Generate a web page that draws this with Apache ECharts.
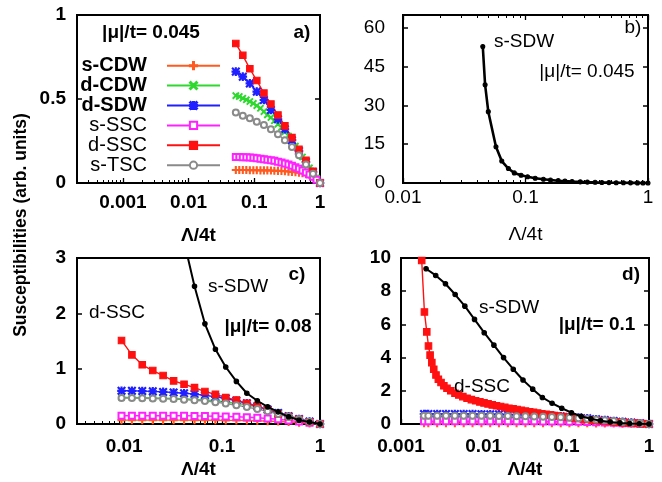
<!DOCTYPE html>
<html><head><meta charset="utf-8">
<script src="https://cdn.jsdelivr.net/npm/echarts@6/dist/echarts.min.js"></script>
<style>html,body{margin:0;padding:0;background:#fff}#c{width:662px;height:482px}</style>
</head><body><div id="c"></div>
<script>
// ---------------- data ----------------
// panel a (|mu|/t = 0.045)
const aXs = [0.0523, 0.0668, 0.0855, 0.109, 0.140, 0.179, 0.229, 0.292, 0.374, 0.478, 0.611, 0.782, 1];
const aXd = [0.0523, 0.0591, 0.0668, 0.0756, 0.0855, 0.0967, 0.109, 0.124, 0.140, 0.158, 0.179, 0.202, 0.229, 0.259, 0.292, 0.331, 0.374, 0.423, 0.478, 0.541, 0.611, 0.692, 0.782, 0.884, 1];
const aOrange = [0.077, 0.077, 0.077, 0.077, 0.076, 0.076, 0.076, 0.075, 0.075, 0.075, 0.074, 0.073, 0.072, 0.071, 0.07, 0.068, 0.066, 0.064, 0.061, 0.058, 0.054, 0.048, 0.04, 0.025, 0];
const aGreen = [0.52, 0.515, 0.505, 0.495, 0.485, 0.474, 0.46, 0.445, 0.425, 0.405, 0.39, 0.37, 0.35, 0.33, 0.305, 0.28, 0.25, 0.22, 0.185, 0.155, 0.12, 0.09, 0.06, 0.03, 0];
const aBlue = [0.663, 0.633, 0.593, 0.544, 0.494, 0.435, 0.379, 0.32, 0.255, 0.19, 0.125, 0.065, 0];
const aPink = [0.155, 0.155, 0.154, 0.153, 0.152, 0.15, 0.148, 0.145, 0.142, 0.139, 0.136, 0.132, 0.127, 0.122, 0.116, 0.11, 0.102, 0.094, 0.085, 0.074, 0.062, 0.05, 0.037, 0.02, 0];
const aRed = [0.83, 0.76, 0.68, 0.61, 0.535, 0.47, 0.405, 0.34, 0.27, 0.2, 0.135, 0.07, 0];
const aGrey = [0.42, 0.40, 0.385, 0.365, 0.345, 0.32, 0.29, 0.255, 0.215, 0.165, 0.11, 0.055, 0];
// panel b
const bX = [0.0448, 0.0468, 0.0497, 0.0574, 0.064, 0.0725, 0.081, 0.092, 0.104, 0.12, 0.14, 0.16, 0.185, 0.21, 0.24, 0.28, 0.32, 0.37, 0.42, 0.48, 0.55, 0.63, 0.72, 0.82, 0.91, 1];
const bBlack = [52.8, 38, 27.6, 14, 8.5, 5.6, 3.9, 3.0, 2.4, 1.85, 1.45, 1.15, 0.9, 0.72, 0.57, 0.44, 0.35, 0.27, 0.21, 0.16, 0.12, 0.085, 0.055, 0.03, 0.015, 0];
// panel c (|mu|/t = 0.08)
const cX = [0.0094, 0.0120, 0.0153, 0.0196, 0.0250, 0.0320, 0.0409, 0.0523, 0.0668, 0.0855, 0.109, 0.140, 0.179, 0.229, 0.292, 0.374, 0.478, 0.611, 0.782, 1];
const cOrange = [0.07, 0.07, 0.07, 0.07, 0.07, 0.07, 0.07, 0.069, 0.068, 0.067, 0.066, 0.065, 0.062, 0.058, 0.052, 0.045, 0.035, 0.025, 0.012, 0];
const cGreen = [0.48, 0.48, 0.475, 0.47, 0.465, 0.46, 0.455, 0.445, 0.435, 0.42, 0.40, 0.375, 0.345, 0.305, 0.26, 0.205, 0.15, 0.095, 0.045, 0];
const cBlue = [0.60, 0.60, 0.595, 0.59, 0.58, 0.57, 0.555, 0.54, 0.52, 0.49, 0.46, 0.42, 0.375, 0.32, 0.26, 0.2, 0.14, 0.09, 0.045, 0];
const cPink = [0.15, 0.15, 0.15, 0.15, 0.15, 0.15, 0.148, 0.146, 0.144, 0.14, 0.135, 0.13, 0.122, 0.113, 0.1, 0.085, 0.065, 0.045, 0.022, 0];
const cRed = [1.51, 1.25, 1.07, 0.966, 0.876, 0.779, 0.719, 0.658, 0.586, 0.537, 0.477, 0.435, 0.374, 0.326, 0.254, 0.181, 0.133, 0.085, 0.042, 0];
const cGrey = [0.47, 0.47, 0.465, 0.46, 0.455, 0.45, 0.44, 0.43, 0.415, 0.395, 0.37, 0.34, 0.305, 0.27, 0.23, 0.18, 0.13, 0.085, 0.04, 0];
const cBlackX = [0.0409, 0.0523, 0.0668, 0.0855, 0.109, 0.140, 0.179, 0.229, 0.292, 0.374, 0.478, 0.611, 0.782, 1];
const cBlack = [3.3, 2.49, 1.81, 1.35, 1.03, 0.77, 0.556, 0.42, 0.31, 0.22, 0.13, 0.07, 0.036, 0];
// panel d (|mu|/t = 0.1)
const dX = [0.0019, 0.00214, 0.00274, 0.0035, 0.00448, 0.00573, 0.00733, 0.0094, 0.0120, 0.0153, 0.0196, 0.0250, 0.0320, 0.0409, 0.0523, 0.0668, 0.0855, 0.109, 0.140, 0.179, 0.229, 0.292, 0.374, 0.478, 0.611, 0.782, 1];
const dOrange = [0.05, 0.05, 0.05, 0.05, 0.05, 0.05, 0.05, 0.05, 0.05, 0.05, 0.05, 0.05, 0.05, 0.05, 0.05, 0.049, 0.048, 0.047, 0.045, 0.043, 0.04, 0.036, 0.031, 0.025, 0.018, 0.009, 0];
const dGreen = [0.46, 0.46, 0.46, 0.46, 0.46, 0.46, 0.455, 0.45, 0.45, 0.445, 0.44, 0.43, 0.42, 0.41, 0.395, 0.38, 0.36, 0.335, 0.305, 0.27, 0.235, 0.195, 0.15, 0.105, 0.065, 0.03, 0];
const dBlue = [0.6, 0.6, 0.6, 0.6, 0.6, 0.6, 0.595, 0.59, 0.585, 0.58, 0.57, 0.56, 0.55, 0.535, 0.515, 0.49, 0.46, 0.425, 0.385, 0.34, 0.29, 0.24, 0.185, 0.13, 0.085, 0.04, 0];
const dPink = [0.17, 0.17, 0.17, 0.17, 0.17, 0.17, 0.17, 0.17, 0.17, 0.17, 0.168, 0.165, 0.162, 0.16, 0.155, 0.15, 0.145, 0.14, 0.13, 0.12, 0.105, 0.09, 0.07, 0.05, 0.03, 0.015, 0];
const dGrey = [0.5, 0.5, 0.5, 0.5, 0.5, 0.5, 0.495, 0.49, 0.49, 0.485, 0.48, 0.47, 0.46, 0.45, 0.435, 0.42, 0.4, 0.375, 0.345, 0.31, 0.27, 0.225, 0.175, 0.125, 0.08, 0.04, 0];
const dRedX = [0.00178, 0.00192, 0.00205, 0.00215, 0.00225, 0.00236, 0.00249, 0.00265, 0.00283, 0.00305, 0.0033, 0.0036, 0.004, 0.0045, 0.005, 0.0056, 0.0063, 0.0071, 0.008, 0.009, 0.0101, 0.0113, 0.0127, 0.0143, 0.016, 0.018, 0.0202, 0.0227, 0.0254, 0.0285, 0.032, 0.036, 0.04, 0.045, 0.0505, 0.057, 0.064, 0.071, 0.08, 0.09, 0.101, 0.113, 0.127, 0.143, 0.16, 0.18, 0.202, 0.227, 0.254, 0.285, 0.32, 0.36, 0.40, 0.45, 0.505, 0.57, 0.64, 0.71, 0.8, 0.9, 1];
const dRed = [9.85, 6.75, 5.55, 4.7, 4.15, 3.7, 3.3, 2.95, 2.7, 2.5, 2.3, 2.15, 2.0, 1.85, 1.75, 1.65, 1.55, 1.47, 1.4, 1.33, 1.27, 1.21, 1.15, 1.1, 1.05, 1.0, 0.95, 0.91, 0.87, 0.82, 0.78, 0.74, 0.7, 0.66, 0.62, 0.58, 0.55, 0.51, 0.48, 0.45, 0.42, 0.39, 0.36, 0.33, 0.3, 0.27, 0.25, 0.22, 0.2, 0.18, 0.16, 0.14, 0.12, 0.1, 0.085, 0.07, 0.055, 0.04, 0.025, 0.012, 0];
const dBlackX = [0.00201, 0.00263, 0.00345, 0.00452, 0.00592, 0.00775, 0.01015, 0.0133, 0.0174, 0.0228, 0.0299, 0.0392, 0.0513, 0.0672, 0.088, 0.1153, 0.151, 0.1978, 0.259, 0.340, 0.4447, 0.5826, 0.763, 1];
const dBlack = [9.35, 8.95, 8.45, 7.8, 7.1, 6.3, 5.5, 4.75, 4.0, 3.3, 2.65, 2.1, 1.6, 1.25, 0.95, 0.68, 0.47, 0.31, 0.2, 0.12, 0.065, 0.03, 0.012, 0];
// tick labels by decade exponent
const xTickLabels = { '-3': '0.001', '-2': '0.01', '-1': '0.1', '0': '1' };
const legendNames = ['s-CDW', 'd-CDW', 'd-SDW', 's-SSC', 'd-SSC', 's-TSC'];

// ---------------- styling ----------------
const FONT = '"Liberation Sans", Arial, Helvetica, sans-serif';
const PLUS = 'path://M4.3,0H5.7V10H4.3ZM0,4.3H10V5.7H0Z';
const CROSS = 'path://M0,1L1,0L5,4L9,0L10,1L6,5L10,9L9,10L5,6L1,10L0,9L4,5Z';
const STAR = 'path://M4.3,0H5.7V10H4.3ZM0,4.3H10V5.7H0ZM0,1L1,0L5,4L9,0L10,1L6,5L10,9L9,10L5,6L1,10L0,9L4,5Z';
const ST = {
  's-CDW': { color: '#ff5a1f', symbol: PLUS, size: 7 },
  'd-CDW': { color: '#2fd82f', symbol: CROSS, size: 6 },
  'd-SDW': { color: '#1f1fff', symbol: STAR, size: 7.5 },
  's-SSC': { color: '#ff22ff', symbol: 'emptyRect', size: 6 },
  'd-SSC': { color: '#ff1010', symbol: 'rect', size: 6.5 },
  's-TSC': { color: '#8a8a8a', symbol: 'emptyCircle', size: 6 },
  's-SDW': { color: '#000000', symbol: 'circle', size: 4 }
};

function ser(name, xs, ys, gi, opts) {
  opts = opts || {};
  const s = ST[name];
  return {
    type: 'line', name, xAxisIndex: gi.x, yAxisIndex: gi.y,
    data: xs.map((x, i) => [x, ys[i]]),
    symbol: s.symbol, symbolSize: opts.size || s.size, symbolKeepAspect: true,
    showSymbol: true, showAllSymbol: true, clip: !!opts.clip,
    lineStyle: { color: s.color, width: opts.lw || 1.4 },
    itemStyle: { color: s.color, borderColor: s.color, borderWidth: 1.1 },
    emphasis: { disabled: true }, silent: true, animation: false, z: opts.z || 2
  };
}

function xMain(gi, min, bold, margin, nameGap, showMin) {
  return {
    type: 'log', logBase: 10, gridIndex: gi, position: 'bottom', min: min, max: 1,
    axisLine: { show: true, onZero: false, lineStyle: { color: '#000', width: 2 } },
    axisTick: { show: true, inside: true, length: 5, lineStyle: { color: '#000', width: 1.3 } },
    splitLine: { show: false }, minorTick: { show: false },
    axisLabel: {
      show: true, margin: margin, showMinLabel: showMin, showMaxLabel: true,
      color: '#000', fontFamily: FONT, fontSize: 19, fontWeight: bold ? 'bold' : 'normal',
      formatter: v => xTickLabels[String(Math.round(Math.log10(v)))] || ''
    },
    name: 'Λ/4t', nameLocation: 'middle', nameGap: nameGap,
    nameTextStyle: { color: '#000', fontFamily: FONT, fontSize: 19, fontWeight: bold ? 'bold' : 'normal' }
  };
}
function xMinor(gi, min, pos) {
  const lmin = Math.log10(min);
  const vals = [];
  for (let e = Math.floor(lmin); e < 0; e++) {
    for (let k = 2; k <= 9; k++) {
      const v = Math.log10(k) + e;
      if (v > lmin + 1e-6 && v < -1e-6) vals.push(v);
    }
  }
  return {
    type: 'value', gridIndex: gi, position: pos, min: lmin, max: 0,
    axisLine: { show: false, onZero: false }, axisLabel: { show: false }, splitLine: { show: false },
    axisTick: { show: true, inside: true, length: 3, customValues: vals, lineStyle: { color: '#000', width: 1 } }
  };
}
function xTop(gi, min) {
  return {
    type: 'log', logBase: 10, gridIndex: gi, position: 'top', min: min, max: 1,
    axisLine: { show: true, onZero: false, lineStyle: { color: '#000', width: 2 } },
    axisTick: { show: true, inside: true, length: 5, lineStyle: { color: '#000', width: 1.3 } },
    axisLabel: { show: false }, splitLine: { show: false }
  };
}
function yAx(gi, max, interval, pos, bold, margin) {
  return {
    type: 'value', gridIndex: gi, position: pos, min: 0, max: max, interval: interval,
    axisLine: { show: true, onZero: false, lineStyle: { color: '#000', width: 2 } },
    axisTick: { show: true, inside: true, length: 5, lineStyle: { color: '#000', width: 1.5 } },
    splitLine: { show: false },
    axisLabel: {
      show: pos === 'left', margin: margin, showMaxLabel: (max % interval === 0),
      color: '#000', fontFamily: FONT, fontSize: 19, fontWeight: bold ? 'bold' : 'normal'
    }
  };
}

const grids = [
  { left: 77, top: 15, width: 243, height: 168 },
  { left: 403, top: 15, width: 245, height: 168 },
  { left: 77, top: 258, width: 243, height: 166 },
  { left: 401, top: 258, width: 248, height: 166 }
].map(g => Object.assign(g, { show: true, borderColor: '#000', borderWidth: 2, backgroundColor: 'transparent', outerBoundsMode: 'none' }));

const xAxes = [
  xMain(0, 0.0002, true, 10, 43, false), xMinor(0, 0.0002, 'bottom'),          // 0,1
  xMain(1, 0.01, false, 5, 42, true), xMinor(1, 0.01, 'bottom'),              // 2,3
  xTop(1, 0.01), xMinor(1, 0.01, 'top'),                                       // 4,5
  xMain(2, 0.0033, true, 13, 36, false), xMinor(2, 0.0033, 'bottom'),         // 6,7
  xMain(3, 0.001, true, 13, 36, true), xMinor(3, 0.001, 'bottom')             // 8,9
];
const yAxes = [
  yAx(0, 1, 0.5, 'left', true, 11), yAx(0, 1, 0.5, 'right', true, 11),
  yAx(1, 65, 15, 'left', false, 18), yAx(1, 65, 15, 'right', false, 18),
  yAx(2, 3, 1, 'left', true, 11), yAx(2, 3, 1, 'right', true, 11),
  yAx(3, 10, 2, 'left', true, 10), yAx(3, 10, 2, 'right', true, 10)
];

const A = { x: 0, y: 0 }, B = { x: 2, y: 2 }, C = { x: 6, y: 4 }, D = { x: 8, y: 6 };
const series = [
  ser('s-CDW', aXd, aOrange, A), ser('d-CDW', aXd, aGreen, A), ser('d-SDW', aXs, aBlue, A),
  ser('s-SSC', aXd, aPink, A), ser('d-SSC', aXs, aRed, A), ser('s-TSC', aXs, aGrey, A),
  ser('s-SDW', bX, bBlack, B, { lw: 2.6, size: 4 }),
  ser('s-CDW', cX, cOrange, C), ser('d-CDW', cX, cGreen, C), ser('d-SDW', cX, cBlue, C),
  ser('s-SSC', cX, cPink, C), ser('d-SSC', cX, cRed, C), ser('s-TSC', cX, cGrey, C),
  ser('s-SDW', cBlackX, cBlack, C, { lw: 2, size: 4.5, clip: true, z: 3 }),
  ser('s-CDW', dX, dOrange, D), ser('d-CDW', dX, dGreen, D), ser('d-SDW', dX, dBlue, D),
  ser('s-SSC', dX, dPink, D), ser('d-SSC', dRedX, dRed, D), ser('s-TSC', dX, dGrey, D),
  ser('s-SDW', dBlackX, dBlack, D, { lw: 2, size: 4.5, z: 3 })
];

const rowY = [65.7, 85.6, 105.5, 125.4, 145.3, 165.2];
const legends = legendNames.map((n, i) => ({
  data: [n], orient: 'horizontal', align: 'right', right: 441, top: rowY[i] - 10, padding: 0,
  itemWidth: 53, itemHeight: 9, selectedMode: false,
  textStyle: { fontFamily: FONT, fontSize: 20, fontWeight: i < 3 ? 'bold' : 'normal', color: '#000', padding: [0, 15, 0, 0] }
}));

function txt(x, y, text, bold, size, extra) {
  return Object.assign({
    type: 'text', x: x, y: y, silent: true, z: 10,
    style: { text: text, fill: '#000', font: (bold ? 'bold ' : '') + (size || 19) + 'px ' + FONT, align: 'center', verticalAlign: 'middle' }
  }, extra || {});
}
const graphics = [
  txt(21, 225, 'Susceptibilities (arb. units)', true, 17.5, { rotation: Math.PI / 2 }),
  txt(151, 33, '|μ|/t= 0.045', true), txt(302, 33, 'a)', true),
  txt(524, 42, 's-SDW', false), txt(587, 72, '|μ|/t= 0.045', false), txt(633, 28, 'b)', false),
  txt(238, 287, 's-SDW', false), txt(117, 313, 'd-SSC', false), txt(268, 327, '|μ|/t= 0.08', true), txt(297, 275, 'c)', true),
  txt(509, 308, 's-SDW', false), txt(482, 387, 'd-SSC', false), txt(597, 325, '|μ|/t= 0.1', true), txt(631, 275, 'd)', true)
];

const chart = echarts.init(document.getElementById('c'), null, { renderer: 'canvas' });
chart.setOption({
  animation: false, backgroundColor: '#fff',
  textStyle: { fontFamily: FONT },
  grid: grids, xAxis: xAxes, yAxis: yAxes, series: series, legend: legends, graphic: graphics
});
</script></body></html>
